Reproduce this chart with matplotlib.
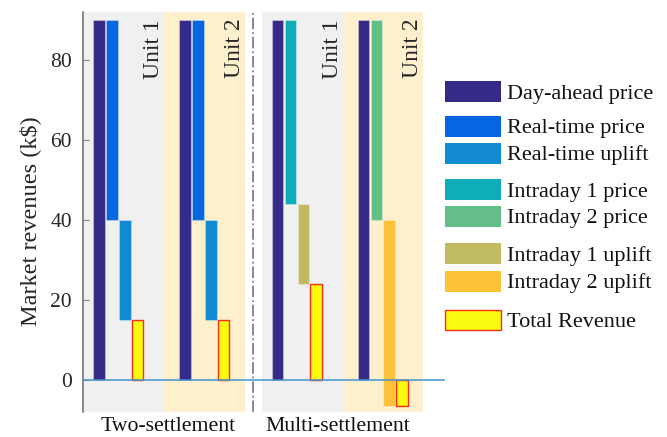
import numpy as np
import matplotlib.pyplot as plt
from matplotlib.patches import Rectangle
from matplotlib.transforms import blended_transform_factory

plt.rcParams['font.family'] = ['Liberation Serif', 'DejaVu Serif']

# revenue components for each unit (k$)
units = ['Unit 1', 'Unit 2']
settlements = ['Two-settlement', 'Multi-settlement']
two_day_ahead = [90, 90]
two_rt_price = [-50, -50]
two_rt_uplift = [-25, -25]
multi_day_ahead = [90, 90]
multi_id_price = [-46, -50]      # intraday 1 (unit 1), intraday 2 (unit 2)
multi_id_uplift = [-20, -46.5]

legend_labels = ['Day-ahead price', 'Real-time price', 'Real-time uplift',
                 'Intraday 1 price', 'Intraday 2 price',
                 'Intraday 1 uplift', 'Intraday 2 uplift', 'Total Revenue']

colors = {
    'Day-ahead price': '#352a87',
    'Real-time price': '#0466e0',
    'Real-time uplift': '#128ad1',
    'Intraday 1 price': '#0eadb8',
    'Intraday 2 price': '#63be88',
    'Intraday 1 uplift': '#c0bb62',
    'Intraday 2 uplift': '#fec239',
    'Total Revenue': '#f9fa10',
}
band_colors = ['#f0f0f0', '#fff0cd']

W, H = 667, 437
fig = plt.figure(figsize=(W / 100, H / 100), dpi=100)
ax = fig.add_axes([83 / W, 25 / H, 362 / W, 400 / H])
ax.set_xlim(0, 28.28)
ax.set_ylim(-8, 92)

# shaded band behind each unit
bands = [(0, 6.33), (6.33, 12.66), (13.98, 20.31), (20.31, 26.6)]
for i, (a, b) in enumerate(bands):
    ax.axvspan(a, b, color=band_colors[i % 2], lw=0, zorder=0)
ax.axvline(13.28, color='#808080', ls='-.', lw=1.3, zorder=1)

group_x = [[1.27, 7.98], [15.21, 21.91]]
bw = 0.9


def waterfall(x0, steps, cols):
    level = 0
    for i, (v, c) in enumerate(zip(steps, cols)):
        ax.bar(x0 + i, v, bottom=level, width=bw, color=c,
               edgecolor=(1, 1, 1, 0.3), lw=0.8, zorder=2)
        level += v
    ax.bar(x0 + len(steps), level, bottom=0, width=bw,
           color=colors['Total Revenue'], edgecolor='#ff2a1a', lw=1.0, zorder=2)


for u in range(2):
    waterfall(group_x[0][u], [two_day_ahead[u], two_rt_price[u], two_rt_uplift[u]],
              [colors['Day-ahead price'], colors['Real-time price'],
               colors['Real-time uplift']])
    waterfall(group_x[1][u], [multi_day_ahead[u], multi_id_price[u], multi_id_uplift[u]],
              [colors['Day-ahead price'], colors['Intraday %d price' % (u + 1)],
               colors['Intraday %d uplift' % (u + 1)]])

ax.axhline(0, color='#4394d0', lw=1.1, zorder=3)

# unit names along the top right of each band
for i, (a, b) in enumerate(bands):
    ax.text(b - 0.02, 90.3, units[i % 2], rotation=90, ha='right', va='top',
            fontsize=17, color='#262626', zorder=4)

tr = blended_transform_factory(ax.transData, ax.transAxes)
ax.text(6.68, -0.012, settlements[0], transform=tr,
        ha='center', va='top', fontsize=15.7, color='#111111')
ax.text(19.88, -0.012, settlements[1], transform=tr,
        ha='center', va='top', fontsize=15.7, color='#111111')

for s in ['top', 'right', 'bottom']:
    ax.spines[s].set_visible(False)
ax.spines['left'].set_color('#808080')
ax.spines['left'].set_linewidth(1.3)
ax.set_xticks([])
ax.set_yticks([0, 20, 40, 60, 80])
ax.tick_params(axis='y', direction='in', length=4, color='#808080',
               labelsize=15.5, labelcolor='#262626', pad=8)

fig.text(30 / W, 1 - 221 / H, 'Market revenues (k$)', rotation=90,
         ha='center', va='center', fontsize=17.5, color='#262626')

# legend drawn on a pixel-space overlay
lg = fig.add_axes([0, 0, 1, 1])
lg.set_xlim(0, W)
lg.set_ylim(H, 0)
lg.axis('off')
row_y = [91.5, 126.5, 153, 189.5, 216.5, 253.5, 281, 320]
for lab, yc in zip(legend_labels, row_y):
    if lab == 'Total Revenue':
        lg.add_patch(Rectangle((445, yc - 10), 56, 20, facecolor=colors[lab],
                               edgecolor='#ff2a1a', lw=1.0))
    else:
        lg.add_patch(Rectangle((445, yc - 10.5), 56, 21, facecolor=colors[lab],
                               edgecolor='none'))
    lg.text(507, yc + 2.5, lab, ha='left', va='center', fontsize=16, color='#111111')

fig.savefig('out.png', dpi=100)
